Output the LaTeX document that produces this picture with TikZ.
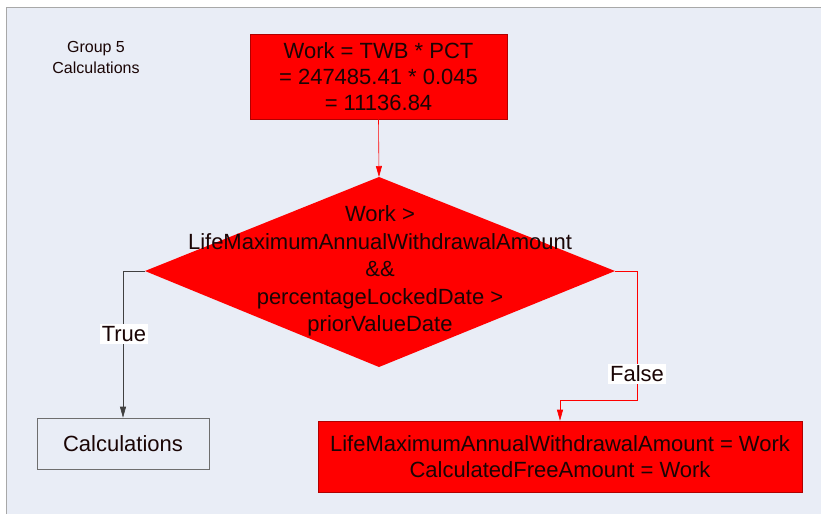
\documentclass[tikz,border=0pt]{standalone}
\usepackage{fontspec}
\setmainfont{Liberation Sans}
\usetikzlibrary{arrows.meta}
\definecolor{panelbg}{HTML}{E9EDF6}
\definecolor{panelline}{HTML}{A8A8A8}
\definecolor{alarm}{HTML}{FF0000}
\definecolor{alarmedge}{HTML}{B00000}
\definecolor{plainedge}{HTML}{6E6E6E}
\definecolor{ink}{HTML}{1A0505}
\tikzset{
  txt/.style={font=\fontsize{22}{26}\selectfont, text=ink, align=center, inner sep=0pt},
  redbox/.style={txt, draw=alarmedge, fill=alarm, line width=0.6pt},
  plainbox/.style={txt, draw=plainedge, fill=panelbg, line width=0.6pt},
  tag/.style={txt, fill=white, inner xsep=2pt, inner ysep=2pt},
  redlink/.style={draw=alarm, line width=0.6pt, -{Triangle[width=6pt,length=11pt]}},
  greylink/.style={draw=black!75, line width=0.6pt, -{Triangle[width=6pt,length=11pt]}}
}
\begin{document}
\begin{tikzpicture}[x=1pt,y=-1pt]
\useasboundingbox (0,0) rectangle (821,514);
\fill[white] (0,0) rectangle (821,514);
% background panel
\fill[panelbg] (6,7) rectangle (821,514);
\draw[panelline, line width=1pt] (6,514) -- (6,7) -- (821,7);

% caption
\node[font=\fontsize{16}{21}\selectfont, text=ink, align=center] (caption) at (96,57) {Group 5\\Calculations};

% computation of Work
\node[redbox, minimum width=257, minimum height=85] (work) at (378.5,76.5)
  {Work = TWB * PCT\\= 247485.41 * 0.045\\= 11136.84};

% decision diamond
\coordinate (dtop) at (379,177);
\coordinate (dright) at (615,271);
\coordinate (dbottom) at (379,367);
\coordinate (dleft) at (145,271);
\fill[alarm] (dtop) -- (dright) -- (dbottom) -- (dleft) -- cycle;
\node[txt, font=\fontsize{22}{27.5}\selectfont] (cond) at (380,271)
  {Work >\\LifeMaximumAnnualWithdrawalAmount\\\&\&\\percentageLockedDate >\\priorValueDate};

% outcomes
\node[plainbox, minimum width=172, minimum height=51] (calc) at (123,443.5) {Calculations};
\node[redbox, minimum width=484, minimum height=71] (res) at (560,456.5)
  {LifeMaximumAnnualWithdrawalAmount = Work\\CalculatedFreeAmount = Work};

% connectors
\draw[redlink] (work.south) -- (dtop);
\coordinate (fbend) at (637,400);
\draw[greylink] (dleft) -| (calc.north);
\draw[redlink] (dright) -| (fbend) -| (res.north);

% branch labels
\node[tag] (ltrue) at (124,334) {True};
\node[tag] (lfalse) at (637,374) {False};
\end{tikzpicture}
\end{document}
